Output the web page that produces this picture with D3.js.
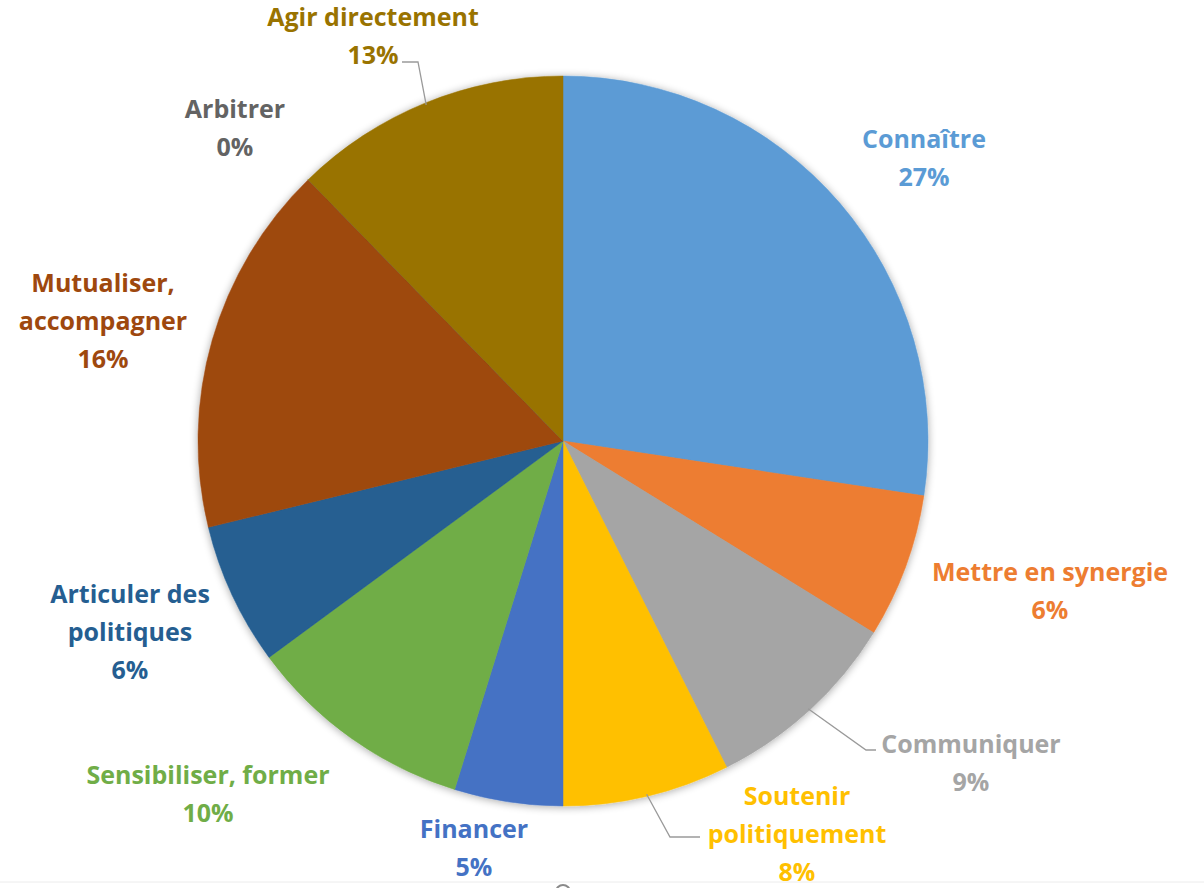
<!DOCTYPE html>
<html>
<head>
<meta charset="utf-8">
<script src="https://cdnjs.cloudflare.com/ajax/libs/d3/7.8.5/d3.min.js"></script>
<style>
  body { margin: 0; background: #fff; }
  svg text { font-family: "Open Sans", Lato, sans-serif; font-weight: bold; }
</style>
</head>
<body>
<div id="chart"></div>
<script>
// categories, clockwise from 12 o'clock
var categories = ["Connaître", "Mettre en synergie", "Communiquer", "Soutenir politiquement",
  "Financer", "Sensibiliser, former", "Articuler des politiques", "Mutualiser, accompagner",
  "Arbitrer", "Agir directement"]
// shares
var shares = [27.4, 6.4, 8.8, 7.4, 4.8, 10.1, 6.3, 16.5, 0, 12.3]
// percentages as printed on the labels
var shownPct = ["27%", "6%", "9%", "8%", "5%", "10%", "6%", "16%", "0%", "13%"]
var colours = ["#5B9BD5", "#ED7D31", "#A5A5A5", "#FFC000", "#4472C4", "#70AD47",
  "#255E91", "#9E480E", "#636363", "#997300"]

// label lines (text broken the way Excel did it)
var labelLines = [
  ["Connaître"], ["Mettre en synergie"], ["Communiquer"], ["Soutenir", "politiquement"],
  ["Financer"], ["Sensibiliser, former"], ["Articuler des", "politiques"],
  ["Mutualiser,", "accompagner"], ["Arbitrer"], ["Agir directement"]
]
// where each label block sits (centre x, first baseline y)
var labelPos = [
  [924, 148], [1050, 581], [971, 753], [797, 805], [474, 838],
  [208, 784], [130, 603], [103, 292], [235, 118], [373, 26]
]
// slices that get a leader line: [elbow x, elbow y, end x]
var leaders = {
  2: [866, 750, 876],
  3: [670, 837, 700],
  9: [418, 62, 402]
}

var W = 1204, H = 888
var cx = 563, cy = 441, R = 365

var svg = d3.select('#chart').append('svg')
    .attr('width', W)
    .attr('height', H)

var defs = svg.append('defs')
var shadow = defs.append('filter').attr('id', 'shadow')
    .attr('x', '-10%').attr('y', '-10%').attr('width', '120%').attr('height', '120%')
shadow.append('feGaussianBlur').attr('in', 'SourceAlpha').attr('stdDeviation', 4)
shadow.append('feOffset').attr('dx', 0).attr('dy', 1).attr('result', 'blur')
shadow.append('feComponentTransfer').append('feFuncA').attr('type', 'linear').attr('slope', 0.35)
var merge = shadow.append('feMerge')
merge.append('feMergeNode')
merge.append('feMergeNode').attr('in', 'SourceGraphic')

var pie = d3.pie()
    .value(function(d) { return d })
    .sort(null)

var arc = d3.arc()
    .innerRadius(0)
    .outerRadius(R)

var slices = pie(shares)

var g = svg.append('g')
    .attr('transform', 'translate(' + cx + ',' + cy + ')')

g.append('g')
    .attr('filter', 'url(#shadow)')
    .selectAll('path')
    .data(slices)
    .enter()
    .append('path')
    .attr('d', arc)
    .attr('fill', function(d, i) { return colours[i] })
    .attr('stroke', function(d, i) { return colours[i] })
    .attr('stroke-width', 0.5)

// leader lines from the slice's outer edge
var edgeArc = d3.arc().innerRadius(R - 2).outerRadius(R - 2)
Object.keys(leaders).forEach(function(k) {
  var i = +k
  var p = edgeArc.centroid(slices[i])
  var sx = p[0] + cx, sy = p[1] + cy
  var l = leaders[k]
  svg.append('polyline')
      .attr('points', [[sx, sy], [l[0], l[1]], [l[2], l[1]]].map(function(q) { return q.join(',') }).join(' '))
      .attr('fill', 'none')
      .attr('stroke', '#9a9a9a')
      .attr('stroke-width', 1.3)
})

var labels = svg.append('g').selectAll('text')
    .data(categories)
    .enter()
    .append('text')
    .attr('text-anchor', 'middle')
    .attr('font-size', 25)
    .attr('fill', function(d, i) { return colours[i] })
    .attr('x', function(d, i) { return labelPos[i][0] })
    .attr('y', function(d, i) { return labelPos[i][1] })

labels.each(function(d, i) {
  var t = d3.select(this)
  var lines = labelLines[i].concat([shownPct[i]])
  lines.forEach(function(s, j) {
    t.append('tspan')
        .attr('x', labelPos[i][0])
        .attr('dy', j == 0 ? 0 : 38)
        .text(s)
  })
})

// faint edge of the next element, cut off at the bottom of the capture
svg.append('line')
    .attr('x1', 0).attr('x2', W)
    .attr('y1', 882).attr('y2', 882)
    .attr('stroke', '#ececec')
svg.append('circle')
    .attr('cx', 563).attr('cy', 892).attr('r', 7)
    .attr('fill', 'none')
    .attr('stroke', '#8a8a8a')
    .attr('stroke-width', 2)
</script>
</body>
</html>
